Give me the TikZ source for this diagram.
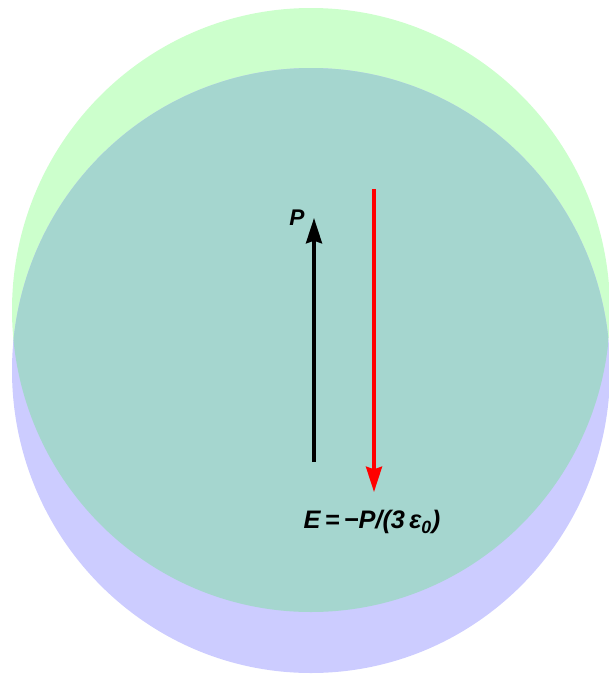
\documentclass[tikz,border=0pt]{standalone}
\usepackage{fontspec}
\setmainfont{Liberation Sans}
\usetikzlibrary{arrows.meta}
\definecolor{gfill}{HTML}{CCFFCC}
\definecolor{bfill}{HTML}{CCCCFF}
\definecolor{tfill}{HTML}{A5D6CF}
\definecolor{redarrow}{HTML}{FF0000}
\tikzset{
  vec/.style={line width=2.6pt, -{Stealth[length=19pt,width=12pt,inset=2pt]}},
  lbl/.style={inner sep=0pt, font=\bfseries\itshape\fontsize{19}{22}\selectfont}
}
\begin{document}
\begin{tikzpicture}[x=0.75pt,y=-0.75pt]
\useasboundingbox (0,0) rectangle (608,675);
\fill[gfill] (311,310) ellipse [x radius=299, y radius=302];
\fill[bfill] (311,370.5) ellipse [x radius=299, y radius=302.5];
\begin{scope}
  \clip (311,310) ellipse [x radius=299, y radius=302];
  \fill[tfill] (311,370.5) ellipse [x radius=299, y radius=302.5];
\end{scope}
\coordinate (pb) at (314,462);
\coordinate (pt) at (314,218);
\coordinate (eb) at (374,189);
\coordinate (et) at (374,492);
\draw[vec, black] (pb) -- (pt);
\draw[vec, redarrow] (eb) -- (et);
\node[lbl, font=\bfseries\itshape\fontsize{17}{20}\selectfont] (plabel) at (297,218) {P};
\node[lbl] (elabel) at (372,522) {E\,=\,\textminus P/(3\,ε\textsubscript{0})};
\end{tikzpicture}
\end{document}
